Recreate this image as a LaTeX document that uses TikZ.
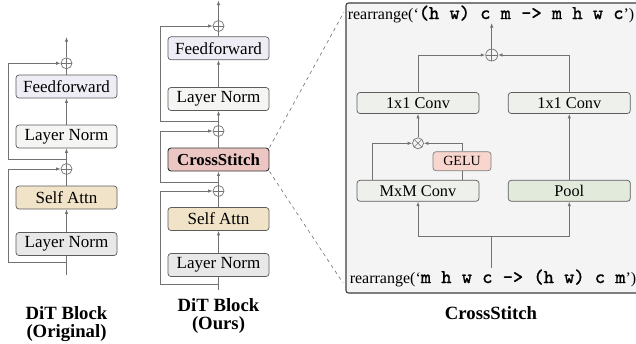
\documentclass[tikz,border=0pt]{standalone}
\usepackage{fontspec}
\setmainfont{Liberation Serif}
\newfontfamily\codefont{lmmono10-regular}[Extension=.otf, FakeBold=1.2]
\usetikzlibrary{arrows.meta}

\definecolor{wirec}{HTML}{727272}
\definecolor{boxline}{HTML}{5C5C5C}
\definecolor{ffc}{HTML}{EEEDF5}
\definecolor{lnA}{HTML}{F5F5F3}
\definecolor{sac}{HTML}{F1E3C7}
\definecolor{lnB}{HTML}{E8E8E8}
\definecolor{csc}{HTML}{ECC6C2}
\definecolor{panelc}{HTML}{F4F4F4}
\definecolor{panelline}{HTML}{3E3E3E}
\definecolor{convc}{HTML}{EEF0EC}
\definecolor{geluc}{HTML}{F8D6CE}
\definecolor{poolc}{HTML}{E2EADC}

\begin{document}
\begin{tikzpicture}[x=1pt,y=-1pt,
  blk/.style={draw=boxline, line width=0.7pt, rounded corners=3pt,
    minimum height=23pt, minimum width=101pt, inner sep=0pt,
    font=\fontsize{17}{18}\selectfont},
  pbox/.style={draw=boxline, line width=0.7pt, rounded corners=3pt,
    minimum height=21pt, minimum width=122pt, inner sep=0pt, fill=convc,
    font=\fontsize{16.3}{18}\selectfont},
  sum/.style={circle, draw=wirec, line width=0.7pt, minimum size=11pt, inner sep=0pt,
    path picture={\draw[wirec, line width=0.6pt]
      (path picture bounding box.north) -- (path picture bounding box.south)
      (path picture bounding box.west) -- (path picture bounding box.east);}},
  prod/.style={circle, draw=wirec, line width=0.7pt, minimum size=11pt, inner sep=0pt,
    path picture={\draw[wirec, line width=0.6pt]
      (path picture bounding box.north west) -- (path picture bounding box.south east)
      (path picture bounding box.north east) -- (path picture bounding box.south west);}},
  wire/.style={draw=wirec, line width=0.8pt},
  arr/.style={wire, -{Latex[length=4.5pt,width=3.4pt]}},
  zoomline/.style={draw=wirec, line width=0.6pt, dash pattern=on 3.5pt off 3.5pt},
  title/.style={font=\fontsize{18.7}{20}\selectfont\bfseries, inner sep=0pt},
  code/.style={inner sep=1pt, font=\fontsize{16}{18}\selectfont},
]
\useasboundingbox (0,0) rectangle (636,343);
\fill[white] (0,0) rectangle (636,343);
\clip (0,0) rectangle (636,343);

% ---------- DiT block (original) ----------
\node[blk, fill=ffc]  (ffL)  at (66.5,86.5)  {Feedforward};
\node[blk, fill=lnA]  (lnL2) at (66.5,136.5) {Layer Norm};
\node[blk, fill=sac]  (saL)  at (66.5,197.5) {Self Attn};
\node[blk, fill=lnB]  (lnL1) at (66.5,244)   {Layer Norm};
\node[sum] (sL2) at (66.5,63.3) {};
\node[sum] (sL1) at (66.5,169) {};
\coordinate (inL)   at (66.5,275);
\coordinate (outL)  at (66.5,37);
\coordinate (tapL1) at (66.5,262);
\coordinate (tapL2) at (66.5,159);
\coordinate (skL)   at (8.3,0);

\draw[wire] (inL) -- (lnL1);
\draw[arr]  (lnL1) -- (saL);
\draw[wire] (saL) -- (sL1);
\draw[arr]  (sL1) -- (lnL2);
\draw[arr]  (lnL2) -- (ffL);
\draw[wire] (ffL) -- (sL2);
\draw[arr]  (sL2) -- (outL);
\draw[arr]  (tapL1) -- (tapL1 -| skL) |- (sL1.west);
\draw[arr]  (tapL2) -- (tapL2 -| skL) |- (sL2.west);

\node[title] (tL1) at (66.5,313) {DiT Block};
\node[title] (tL2) at (66.5,333) {(Original)};

% ---------- DiT block (ours) ----------
\node[blk, fill=ffc] (ffM)  at (218.5,48.3) {Feedforward};
\node[blk, fill=lnA] (lnM2) at (218.5,99)   {Layer Norm};
\node[blk, fill=csc, draw=black!80, line width=0.9pt, font=\fontsize{16.8}{18}\selectfont\bfseries]
                     (csM)  at (218.5,159.5) {CrossStitch};
\node[blk, fill=sac] (saM)  at (218.5,219)  {Self Attn};
\node[blk, fill=lnB] (lnM1) at (218.5,265)  {Layer Norm};
\node[sum] (sM3) at (218.5,26)  {};
\node[sum] (sM2) at (218.5,131) {};
\node[sum] (sM1) at (218.5,191) {};
\coordinate (inM)   at (218.5,290);
\coordinate (outM)  at (218.5,0.5);
\coordinate (tapM1) at (218.5,284);
\coordinate (tapM2) at (218.5,182);
\coordinate (tapM3) at (218.5,121);
\coordinate (skM)   at (160.7,0);

\draw[wire] (inM) -- (lnM1);
\draw[arr]  (lnM1) -- (saM);
\draw[wire] (saM) -- (sM1);
\draw[arr]  (sM1) -- (csM);
\draw[wire] (csM) -- (sM2);
\draw[arr]  (sM2) -- (lnM2);
\draw[arr]  (lnM2) -- (ffM);
\draw[wire] (ffM) -- (sM3);
\draw[arr]  (sM3) -- (outM);
\draw[arr]  (tapM1) -- (tapM1 -| skM) |- (sM1.west);
\draw[arr]  (tapM2) -- (tapM2 -| skM) |- (sM2.west);
\draw[arr]  (tapM3) -- (tapM3 -| skM) |- (sM3.west);

\node[title] (tM1) at (218.5,305) {DiT Block};
\node[title] (tM2) at (218.5,325) {(Ours)};

% ---------- CrossStitch detail ----------
\draw[draw=panelline, line width=1.1pt, fill=panelc, rounded corners=2.5pt]
  (346,3) rectangle (660,293);

\node[code] (topT) at (491,14)
  {rearrange(‘{\codefont\fontsize{19.5}{18}\selectfont(h w) c m -> m h w c}’)};
\node[code] (botT) at (493,278)
  {rearrange(‘{\codefont\fontsize{19.5}{18}\selectfont m h w c -> (h w) c m}’)};

\node[sum, minimum size=12pt] (big) at (491.7,55) {};
\node[pbox] (c1L)  at (418,103)   {1x1 Conv};
\node[pbox] (c1R)  at (569.3,103) {1x1 Conv};
\node[prod] (mul)  at (418,143.3) {};
\node[pbox, fill=geluc, minimum width=58pt, minimum height=19pt, draw=boxline!80,
      font=\fontsize{14}{16}\selectfont] (gelu) at (462,161.2) {GELU};
\node[pbox] (mxm)  at (418,190.8)   {MxM Conv};
\node[pbox, fill=poolc] (pool) at (569.3,190.8) {Pool};

\coordinate (split) at (491.7,236);
\coordinate (outP)  at (491.7,23);
\coordinate (skP)   at (372.3,0);

\draw[wire] (split |- botT.north) -- (split);
\draw[arr]  (split) -| (mxm.south);
\draw[arr]  (split) -| (pool.south);
\draw[arr]  (mxm.north -| skP) |- (mul.west);
\draw[wire] (mxm.north -| gelu) -- (gelu.south);
\draw[arr]  (gelu.north) |- (mul.east);
\draw[arr]  (mul) -- (c1L);
\draw[arr]  (pool) -- (c1R);
\draw[arr]  (c1L.north) |- (big.west);
\draw[arr]  (c1R.north) |- (big.east);
\draw[arr]  (big) -- (outP);

\node[title] (tP) at (491,313) {CrossStitch};

% zoom guides from the CrossStitch block to its detail panel
\coordinate (zTop) at (344,12);
\coordinate (zBot) at (343,283);
\draw[zoomline] (csM.north east) -- (zTop);
\draw[zoomline] (csM.south east) -- (zBot);
\end{tikzpicture}
\end{document}
